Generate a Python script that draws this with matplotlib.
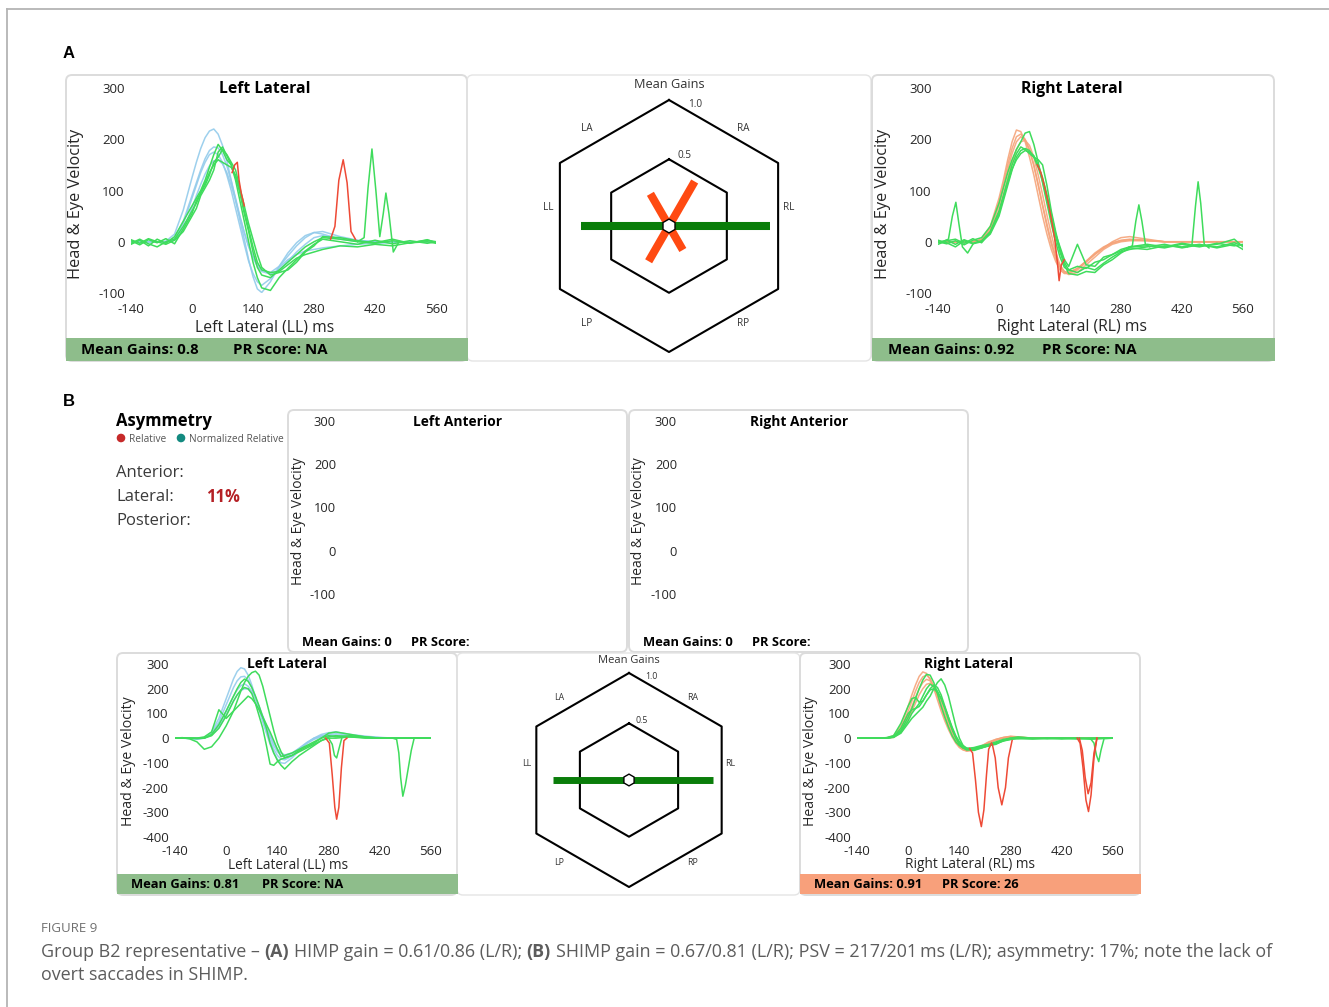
import matplotlib
matplotlib.use('Agg')
import matplotlib.pyplot as plt
from matplotlib import patches, transforms
import numpy as np

plt.rcParams['font.family'] = ['Open Sans', 'DejaVu Sans']
plt.rcParams['axes.unicode_minus'] = False

# ---------------- data ----------------
# common time grid (ms) for the traces
t_grid = [-140, -120, -100, -80, -60, -40, -20, 0, 10, 20, 30, 40, 50, 60, 70, 80, 90, 100,
          110, 120, 130, 140, 150, 160, 180, 200, 220, 240, 260, 280, 300, 340, 380, 420,
          460, 500, 540, 560]
x_ticks = [-140, 0, 140, 280, 420, 560]

# A - Left Lateral: head (blue) and eye (green)
a_left_head = [
    [0, 0, 0, 0, 1, 15, 62, 125, 155, 182, 203, 216, 220, 210, 188, 158, 120, 82, 42, 5, -35, -68, -92, -99, -78, -48, -22, -2, 12, 18, 15, 5, 1, 0, 0, 0, 0, 0],
    [0, 0, 0, 0, 0, 8, 40, 90, 115, 140, 162, 178, 185, 183, 170, 148, 118, 85, 50, 18, -10, -32, -48, -58, -63, -55, -38, -20, -5, 8, 12, 6, 2, 0, 0, 0, 0, 0],
    [0, 0, 0, 0, 0, 5, 35, 85, 110, 135, 155, 170, 175, 170, 155, 130, 100, 65, 30, -5, -38, -62, -78, -85, -72, -50, -35, -25, -18, -15, -12, -8, -5, -3, -2, 0, 0, 0],
    [0, 0, 0, 0, 0, 3, 25, 65, 90, 112, 132, 148, 158, 160, 152, 135, 110, 80, 48, 18, -8, -28, -44, -55, -60, -48, -28, -8, 8, 18, 20, 10, 3, 0, 0, 0, 0, 0],
]
a_left_eye = [
    [-5, 3, -8, 5, -3, 10, 40, 70, 85, 100, 120, 145, 170, 190, 178, 160, 150, 120, 80, 40, 0, -40, -70, -90, -95, -70, -52, -35, -18, -5, 5, 0, -5, 3, -4, 2, -3, 0],
    [2, -6, 4, -2, 6, -4, 25, 55, 80, 95, 110, 130, 155, 165, 180, 170, 155, 140, 105, 70, 35, 5, -25, -50, -65, -60, -55, -40, -20, -8, 10, 8, 2, -2, 5, -3, 4, -2],
    [-3, 5, -4, -10, 0, 5, 30, 60, 75, 95, 115, 135, 150, 160, 155, 150, 145, 130, 100, 60, 25, -10, -40, -55, -60, -58, -45, -32, -25, -20, -15, -8, -10, -5, -8, -2, 0, -3],
    [4, -3, 6, 0, -5, 3, 20, 50, 65, 90, 105, 120, 140, 175, 185, 168, 150, 125, 95, 55, 20, -20, -50, -65, -70, -55, -40, -25, -10, 0, 8, 5, 0, -3, 2, -2, 3, 0],
]
a_left_red = [([92, 98, 104, 108, 113, 120], [135, 150, 155, 120, 95, 70]),
              ([318, 328, 337, 347, 356, 365, 375], [5, 30, 120, 160, 115, 20, 5])]
a_left_spk = [([380, 395, 404, 413, 422, 431, 439, 445, 452, 462, 475],
               [0, 8, 105, 181, 100, 10, 55, 95, 55, -20, 0])]

# A - Right Lateral: head (orange) and eye (green)
a_right_head = [
    [0, 0, 0, 0, 0, 5, 30, 85, 120, 160, 195, 218, 215, 195, 165, 130, 90, 50, 15, -15, -38, -55, -62, -62, -55, -40, -25, -12, 0, 8, 10, 5, 0, 0, 0, 0, 0, 0],
    [0, 0, 0, 0, 0, 3, 22, 70, 105, 140, 172, 195, 205, 198, 180, 150, 112, 72, 35, 0, -28, -48, -58, -60, -52, -38, -22, -10, -2, 3, 5, 3, 0, 0, 0, 0, 0, 0],
    [0, 0, 0, 0, 0, 2, 18, 60, 92, 125, 155, 180, 195, 198, 188, 165, 130, 92, 52, 15, -20, -45, -58, -64, -60, -45, -30, -15, -5, 0, 2, 2, 0, 0, 0, 0, 0, 0],
    [0, 0, 0, 0, 0, 4, 26, 78, 112, 150, 182, 205, 210, 200, 178, 148, 110, 70, 30, -5, -32, -50, -60, -60, -52, -38, -24, -12, -3, 2, 4, 2, 0, 0, 0, 0, 0, 0],
]
a_right_eye = [
    [0, -4, 2, -6, 3, 8, 30, 75, 105, 135, 160, 180, 195, 212, 215, 190, 155, 115, 75, 35, 0, -30, -50, -55, -48, -52, -40, -35, -25, -15, -10, -8, -12, -5, -10, -3, -8, -5],
    [-2, 3, -5, 4, -3, 2, 20, 60, 90, 120, 150, 172, 185, 180, 172, 165, 160, 150, 110, 60, 20, -15, -40, -55, -60, -50, -55, -42, -30, -20, -15, -10, -5, -12, -6, -10, -2, -8],
    [3, -2, -10, 2, -4, 0, 15, 50, 80, 110, 140, 165, 178, 182, 178, 165, 145, 118, 85, 45, 10, -20, -45, -62, -65, -58, -60, -45, -35, -22, -12, -15, -8, -10, -5, -12, -5, -15],
    [-5, 2, 5, -3, 6, -2, 18, 55, 85, 115, 142, 160, 172, 178, 175, 168, 150, 125, 92, 55, 15, -10, -35, -48, -5, -45, -48, -30, -25, -18, -10, -5, -10, -3, -8, -5, 5, -10],
]
a_right_red = [([88, 96, 104, 112, 120, 128, 134, 138, 143, 150],
                [150, 135, 110, 80, 45, 5, -40, -76, -45, -35])]
a_right_spk = [([-130, -116, -107, -99, -92, -84, -72, -60], [0, 5, 50, 77, 35, -10, -22, -5]),
               ([295, 306, 314, 321, 328, 336, 346], [-12, -8, 40, 72, 40, -5, -10]),
               ([432, 443, 451, 457, 463, 471, 482], [-10, -5, 70, 117, 75, -5, -12])]

# B - Left Lateral
b_left_head = [
    [0, 0, -2, -5, 0, 25, 80, 160, 200, 240, 270, 285, 280, 255, 215, 165, 115, 65, 20, -25, -60, -85, -100, -102, -80, -50, -20, 0, 15, 22, 25, 15, 8, 3, 0, 0, 0, 0],
    [0, 0, 0, -3, 2, 20, 65, 135, 170, 205, 232, 248, 250, 235, 205, 165, 120, 75, 30, -10, -45, -70, -85, -88, -72, -45, -20, -2, 10, 15, 18, 12, 6, 2, 0, 0, 0, 0],
    [0, 0, 0, 0, 0, 15, 50, 110, 140, 170, 195, 212, 220, 210, 190, 160, 125, 85, 45, 5, -30, -55, -70, -75, -62, -40, -18, 0, 8, 12, 10, 8, 4, 0, 0, 0, 0, 0],
    [0, 0, 0, 0, 0, 12, 42, 95, 122, 150, 175, 192, 200, 198, 185, 160, 128, 90, 52, 15, -20, -45, -60, -68, -60, -42, -22, -5, 5, 10, 12, 6, 2, 0, 0, 0, 0, 0],
]
b_left_eye = [
    [0, 2, -3, -15, -45, -35, 0, 50, 80, 110, 150, 190, 225, 250, 265, 271, 255, 210, 150, 90, 30, -20, -55, -80, -70, -50, -35, -20, 0, 20, 25, 15, 5, 0, 0, 0, 0, 0],
    [0, 0, 0, -2, 0, 15, 55, 110, 140, 170, 200, 225, 239, 230, 205, 170, 130, 85, 40, -20, -60, -90, -110, -125, -95, -70, -50, -30, -10, 5, 10, 5, 0, 0, 0, 0, 0, 0],
    [0, 0, 0, 0, 5, 25, 115, 80, 95, 110, 125, 140, 155, 170, 160, 140, 115, 85, 55, 25, -10, -45, -75, -70, -60, -45, -30, -15, 0, 10, 5, 10, 5, 0, 0, 0, 0, 0],
    [0, 0, 0, 0, 0, 10, 40, 90, 120, 150, 175, 195, 205, 200, 180, 140, 90, 40, -30, -105, -110, -95, -85, -80, -70, -55, -40, -25, -10, 0, 0, 5, 3, 0, 0, 0, 0, 0],
]
b_left_red = [([272, 282, 290, 297, 302, 308, 315, 322, 330], [0, -20, -150, -280, -328, -280, -120, -10, 0])]
b_left_spk = [([280, 290, 296, 302, 308, 316], [0, -25, -70, -80, -45, 0]),
              ([455, 466, 472, 477, 483, 490, 498, 506, 514, 525], [0, -5, -60, -160, -235, -190, -120, -50, 0, 0])]

# B - Right Lateral
b_right_head = [
    [0, 0, 0, 0, 0, 10, 50, 130, 175, 215, 250, 268, 262, 238, 200, 155, 110, 70, 35, 5, -20, -38, -48, -52, -48, -35, -20, -8, 2, 8, 5, 0, 0, 0, 0, 0, 0, 0],
    [0, 0, 0, 0, 0, 8, 40, 110, 150, 190, 225, 248, 255, 240, 210, 170, 125, 85, 45, 12, -15, -35, -45, -50, -45, -32, -18, -5, 3, 6, 4, 0, 0, 0, 0, 0, 0, 0],
    [0, 0, 0, 0, 0, 5, 30, 90, 128, 165, 200, 225, 238, 232, 210, 175, 135, 92, 52, 18, -10, -32, -45, -52, -48, -35, -20, -8, 0, 5, 3, 0, 0, 0, 0, 0, 0, 0],
    [0, 0, 0, 0, 0, 3, 22, 75, 108, 142, 175, 200, 218, 222, 210, 182, 145, 105, 65, 28, -5, -28, -42, -48, -45, -32, -15, -5, 2, 5, 3, 0, 0, 0, 0, 0, 0, 0],
]
b_right_eye = [
    [0, 0, 0, 0, 0, 5, 30, 85, 120, 160, 200, 235, 258, 255, 225, 180, 130, 85, 45, 10, -15, -30, -40, -42, -38, -30, -25, -15, -5, 0, -3, 0, -2, 0, -3, 0, -2, 0],
    [0, 0, 0, 0, 0, 3, 20, 60, 80, 95, 110, 125, 150, 170, 200, 225, 240, 215, 170, 110, 50, 0, -30, -45, -40, -35, -30, -25, -10, -5, 0, -2, 0, -3, 0, -2, 0, 0],
    [0, 0, 0, 0, 2, 10, 60, 130, 160, 165, 145, 150, 175, 200, 215, 205, 175, 130, 85, 40, 5, -20, -35, -45, -50, -40, -30, -22, -12, -5, 0, -3, 0, -2, 0, -4, 0, 0],
    [0, 0, 0, 0, 0, 5, 25, 70, 100, 120, 140, 170, 200, 218, 210, 190, 160, 120, 75, 35, 0, -25, -40, -48, -45, -38, -32, -20, -8, -2, 0, -2, 0, 0, -2, 0, 0, 0],
    [0, 0, 0, 0, 0, 5, 40, 100, 115, 120, 128, 150, 175, 195, 200, 185, 160, 125, 85, 45, 10, -15, -30, -40, -45, -40, -30, -20, -10, 0, 5, 0, -2, 0, 0, -2, 0, 0],
]
b_right_red = [([168, 176, 184, 192, 200, 207, 214, 220, 228], [-42, -60, -170, -300, -358, -290, -150, -45, -20]),
               ([230, 238, 246, 256, 266, 274, 284], [-25, -80, -200, -270, -200, -80, -10]),
               ([462, 470, 478, 486, 493, 500, 508, 516], [0, -20, -120, -250, -297, -230, -80, 0]),
               ([468, 476, 484, 492, 500, 508, 516], [0, -50, -160, -225, -180, -60, 0])]
b_right_spk = [([500, 508, 515, 521, 527, 535], [-5, -20, -70, -95, -50, -5])]

# mean gains hexagon (RL, RA, LA, LL, LP, RP)
hex_dirs = ['RL', 'RA', 'LA', 'LL', 'LP', 'RP']
a_gains = [0.79, 0.37, 0.25, 0.68, 0.28, 0.17]
a_gain_cols = ['#0a7d0a', '#ff4a12', '#ff4a12', '#0a7d0a', '#ff4a12', '#ff4a12']
b_gains = [0.77, 0, 0, 0.69, 0, 0]
b_gain_cols = ['#0a7d0a'] * 6

# ---------------- figure ----------------
W, H = 1329, 1007
fig = plt.figure(figsize=(W / 100, H / 100), dpi=100)
PX = transforms.Affine2D().scale(1 / 100, -1 / 100).translate(0, H / 100) + fig.dpi_scale_trans

BLUE = '#93cbeb'
GREEN = '#3fdc5c'
RED = '#ee4a36'
ORANGE = '#f5a47a'
TXT = '#262626'


def px_axes(x0, y0, x1, y1):
    return fig.add_axes([x0 / W, 1 - y1 / H, (x1 - x0) / W, (y1 - y0) / H])


def txt(x, y, s, **kw):
    kw.setdefault('ha', 'left')
    kw.setdefault('va', 'center')
    kw.setdefault('color', TXT)
    return fig.text(x, y, s, transform=PX, **kw)


def box(x0, y0, x1, y1, ec='#dcdcdc', lw=1.4):
    p = patches.FancyBboxPatch((x0, y0), x1 - x0, y1 - y0, transform=PX,
                               boxstyle='round,pad=0,rounding_size=6', fc='none', ec=ec, lw=lw)
    fig.add_artist(p)


def bar(x0, y0, x1, y1, color):
    fig.add_artist(patches.Rectangle((x0, y0), x1 - x0, y1 - y0, transform=PX, fc=color, ec='none'))


def trace_panel(bounds, ylim, yticks, fs, padx, pady, heads, head_col, eyes, spikes, reds, show_x=True):
    ax = px_axes(*bounds)
    ax.set_xlim(-140, 560)
    ax.set_ylim(*ylim)
    ax.set_yticks(yticks)
    if show_x:
        ax.set_xticks(x_ticks)
    else:
        ax.set_xticks([])
    for s in ax.spines.values():
        s.set_visible(False)
    ax.patch.set_visible(False)
    ax.tick_params(axis='y', length=0, labelsize=fs, labelcolor=TXT, pad=padx)
    ax.tick_params(axis='x', length=0, labelsize=fs, labelcolor=TXT, pad=pady)
    for v in heads:
        ax.plot(t_grid, v, color=head_col, lw=1.1, alpha=0.9)
    for v in eyes:
        ax.plot(t_grid, v, color=GREEN, lw=1.1)
    for tt, v in spikes:
        ax.plot(tt, v, color=GREEN, lw=1.1)
    for tt, v in reds:
        ax.plot(tt, v, color=RED, lw=1.1)
    return ax


def hex_panel(cx, cy, R, gains, cols, lw_bar, fs_title, fs_lab):
    half = 1.3 * R
    ax = px_axes(cx - half, cy - half, cx + half, cy + half)
    ax.set_xlim(-1.3, 1.3)
    ax.set_ylim(-1.3, 1.3)
    ax.axis('off')
    r0 = 0.06
    ang = np.deg2rad(90 + 60 * np.arange(7))
    for r in [1.0, r0 + 0.5 * (1 - r0)]:
        ax.plot(r * np.cos(ang), r * np.sin(ang), color='black', lw=1.5)
    for g, c, a in zip(gains, cols, [0, 60, 120, 180, 240, 300]):
        if g > 0:
            L = r0 + g * (1 - r0)
            ax.plot([0, L * np.cos(np.deg2rad(a))], [0, L * np.sin(np.deg2rad(a))],
                    color=c, lw=lw_bar, solid_capstyle='butt')
    ax.add_patch(patches.Polygon(np.c_[0.055 * np.cos(ang), 0.055 * np.sin(ang)],
                                 fc='white', ec='black', lw=1.0, zorder=5))
    lab_pos = {'RL': (0.95, 0.15), 'RA': (0.59, 0.77), 'LA': (-0.65, 0.77),
               'LL': (-0.96, 0.15), 'LP': (-0.65, -0.77), 'RP': (0.59, -0.77)}
    for d in hex_dirs:
        ax.text(*lab_pos[d], d, fontsize=fs_lab, ha='center', va='center', color='#333333')
    ax.text(0.21, 0.965, '1.0', fontsize=fs_lab, ha='center', va='center', color='#333333')
    ax.text(0.12, 0.56, '0.5', fontsize=fs_lab, ha='center', va='center', color='#333333')
    ax.text(0, 1.12, 'Mean Gains', fontsize=fs_title, ha='center', va='center', color='#333333')


# outer frame
fig.add_artist(plt.Line2D([7, W], [9, 9], transform=PX, color='#b4b4b4', lw=1.3))
fig.add_artist(plt.Line2D([7, 7], [9, H], transform=PX, color='#b4b4b4', lw=1.3))

# ---------- panel A ----------
txt(63, 54, 'A', fontsize=12, fontweight='bold', color='black', family=['Liberation Sans', 'DejaVu Sans'])

box(66, 75, 467, 361)
box(467, 75, 871, 361, ec='#e4e4e4', lw=1.0)
box(872, 75, 1274, 361)
bar(66, 338, 468, 361, '#8ebd8b')
bar(872, 338, 1275, 361, '#8ebd8b')

trace_panel((131, 88, 436, 293), (-100, 300), [-100, 0, 100, 200, 300], 9.5, 4.5, 7.5,
            a_left_head, BLUE, a_left_eye, a_left_spk, a_left_red)
txt(265, 89, 'Left Lateral', fontsize=11.3, fontweight='bold', ha='center', color='black')
txt(265, 327, 'Left Lateral (LL) ms', fontsize=11.3, ha='center')
txt(76, 204, 'Head & Eye Velocity', fontsize=11.8, ha='center', rotation=90)
txt(81, 350, 'Mean Gains: 0.8', fontsize=10.8, fontweight='bold', color='black')
txt(233, 350, 'PR Score: NA', fontsize=10.8, fontweight='bold', color='black')

trace_panel((938, 88, 1243, 293), (-100, 300), [-100, 0, 100, 200, 300], 9.5, 4.5, 7.5,
            a_right_head, ORANGE, a_right_eye, a_right_spk, a_right_red)
txt(1072, 89, 'Right Lateral', fontsize=11.3, fontweight='bold', ha='center', color='black')
txt(1072, 327, 'Right Lateral (RL) ms', fontsize=11.3, ha='center')
txt(883, 204, 'Head & Eye Velocity', fontsize=11.8, ha='center', rotation=90)
txt(888, 350, 'Mean Gains: 0.92', fontsize=10.8, fontweight='bold', color='black')
txt(1042, 350, 'PR Score: NA', fontsize=10.8, fontweight='bold', color='black')

hex_panel(669, 226, 126, a_gains, a_gain_cols, 5.8, 9.2, 7.2)

# ---------- panel B ----------
txt(63, 401, 'B', fontsize=12, fontweight='bold', color='black', family=['Liberation Sans', 'DejaVu Sans'])

txt(116, 421, 'Asymmetry', fontsize=12, fontweight='bold', color='black')
fig.add_artist(patches.Circle((121, 438), 3.6, transform=PX, color='#c62a2a'))
txt(129, 439, 'Relative', fontsize=7.3, color='#555555')
fig.add_artist(patches.Circle((181, 438), 3.6, transform=PX, color='#138a80'))
txt(189, 439, 'Normalized Relative', fontsize=7.3, color='#555555')
txt(116, 473, 'Anterior:', fontsize=12, color='#3a3a3a')
txt(116, 497, 'Lateral:', fontsize=12, color='#3a3a3a')
txt(206, 497, '11%', fontsize=12, fontweight='bold', color='#b52025')
txt(116, 521, 'Posterior:', fontsize=12, color='#3a3a3a')

# anterior panels (empty)
box(288, 410, 627, 652)
box(629, 410, 968, 652)
for x0, name in [(288, 'Left Anterior'), (629, 'Right Anterior')]:
    trace_panel((x0 + 55, 421, x0 + 330, 594), (-100, 300), [-100, 0, 100, 200, 300], 9.3, 5, 5,
                [], BLUE, [], [], [], show_x=False)
    txt(x0 + 170, 422, name, fontsize=9.9, fontweight='bold', ha='center', color='black')
    txt(x0 + 10, 521, 'Head & Eye Velocity', fontsize=10, ha='center', rotation=90)
    txt(x0 + 14, 642, 'Mean Gains: 0', fontsize=9.3, fontweight='bold', color='black')
    txt(x0 + 123, 642, 'PR Score:', fontsize=9.3, fontweight='bold', color='black')

box(117, 653, 457, 895)
box(457, 653, 800, 895, ec='#e4e4e4', lw=1.0)
box(800, 653, 1140, 895)
bar(117, 874, 458, 894, '#8ebd8b')
bar(800, 874, 1141, 894, '#f8a07b')

yt_b = [-400, -300, -200, -100, 0, 100, 200, 300]
trace_panel((175, 664, 431, 837), (-400, 300), yt_b, 9.5, 4.5, 5.5,
            b_left_head, BLUE, b_left_eye, b_left_spk, b_left_red)
txt(287, 664, 'Left Lateral', fontsize=9.9, fontweight='bold', ha='center', color='black')
txt(288, 865, 'Left Lateral (LL) ms', fontsize=9.8, ha='center')
txt(128, 761, 'Head & Eye Velocity', fontsize=10.2, ha='center', rotation=90)
txt(131, 885, 'Mean Gains: 0.81', fontsize=9.3, fontweight='bold', color='black')
txt(262, 885, 'PR Score: NA', fontsize=9.3, fontweight='bold', color='black')

trace_panel((857, 664, 1113, 837), (-400, 300), yt_b, 9.5, 4.5, 5.5,
            b_right_head, ORANGE, b_right_eye, b_right_spk, b_right_red)
txt(969, 664, 'Right Lateral', fontsize=9.9, fontweight='bold', ha='center', color='black')
txt(970, 865, 'Right Lateral (RL) ms', fontsize=9.8, ha='center')
txt(810, 761, 'Head & Eye Velocity', fontsize=10.2, ha='center', rotation=90)
txt(814, 885, 'Mean Gains: 0.91', fontsize=9.3, fontweight='bold', color='black')
txt(942, 885, 'PR Score: 26', fontsize=9.3, fontweight='bold', color='black')

hex_panel(629, 780, 107, b_gains, b_gain_cols, 5.0, 8, 6.3)

# ---------- caption ----------
txt(41, 929, 'FIGURE 9', fontsize=9.5, color='#707070')
renderer = fig.canvas.get_renderer()
cap_kw = dict(fontsize=12.9, color='#5c5c5c')


def rich_line(x, y, parts):
    probe = txt(0, 0, 'a a', **cap_kw)
    w2 = probe.get_window_extent(renderer).width
    probe.set_text('aa')
    space = w2 - probe.get_window_extent(renderer).width
    probe.remove()
    for s, bold in parts:
        t = txt(x, y, s, fontweight='bold' if bold else 'normal', **cap_kw)
        x += t.get_window_extent(renderer).width + space


rich_line(41, 952, [('Group B2 representative \u2013', False), ('(A)', True),
                    ('HIMP gain = 0.61/0.86 (L/R);', False), ('(B)', True),
                    ('SHIMP gain = 0.67/0.81 (L/R); PSV = 217/201\u2009ms (L/R); asymmetry: 17%; note the lack of', False)])
txt(41, 975, 'overt saccades in SHIMP.', **cap_kw)

fig.savefig('out.png', dpi=100)
